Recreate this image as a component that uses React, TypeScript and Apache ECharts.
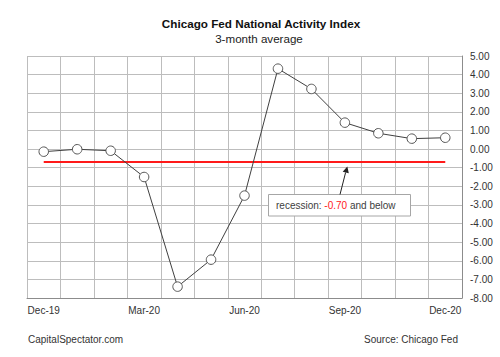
import React, { useEffect, useRef } from "react";
import * as echarts from "echarts";

const CATEGORIES = [
  "Dec-19", "Jan-20", "Feb-20", "Mar-20", "Apr-20", "May-20", "Jun-20",
  "Jul-20", "Aug-20", "Sep-20", "Oct-20", "Nov-20", "Dec-20",
];
const CFNAI_MA3 = [-0.14, -0.01, -0.09, -1.5, -7.39, -5.94, -2.5, 4.32, 3.23, 1.42, 0.85, 0.56, 0.61];
const RECESSION_THRESHOLD = -0.7;
const Y_MIN = -8;
const Y_MAX = 5;
const Y_STEP = 1;

const TITLE = "Chicago Fed National Activity Index";
const SUBTITLE = "3-month average";
const LEFT_NOTE = "CapitalSpectator.com";
const RIGHT_NOTE = "Source: Chicago Fed";

const FONT = "'Liberation Sans', Arial, sans-serif";

export default function App() {
  const ref = useRef<HTMLDivElement>(null);
  useEffect(() => {
    if (!ref.current) return;
    const chart = echarts.init(ref.current, undefined, { renderer: "svg" });
    const option: any = {
      animation: false,
      backgroundColor: "#ffffff",
      textStyle: { fontFamily: FONT },
      grid: { left: 27, right: 38, top: 56, bottom: 59, containLabel: false },
      xAxis: {
        type: "category",
        data: CATEGORIES,
        boundaryGap: true,
        axisLine: { show: true, onZero: false, lineStyle: { color: "#8c8c8c", width: 1 } },
        axisTick: { show: false },
        axisLabel: {
          interval: 2,
          color: "#333333",
          fontSize: 10,
          fontFamily: FONT,
          margin: 7,
        },
        splitLine: { show: true, interval: 0, lineStyle: { color: "#bdbdbd", width: 1 } },
      },
      yAxis: {
        type: "value",
        position: "right",
        min: Y_MIN,
        max: Y_MAX,
        interval: Y_STEP,
        axisLine: { show: true, onZero: false, lineStyle: { color: "#8c8c8c", width: 1 } },
        axisTick: { show: false },
        axisLabel: {
          color: "#333333",
          fontSize: 10,
          fontFamily: FONT,
          margin: 8,
          formatter: (v: number) => v.toFixed(2),
        },
        splitLine: { show: true, lineStyle: { color: "#bdbdbd", width: 1 } },
      },
      series: [
        {
          type: "line",
          data: CFNAI_MA3,
          symbol: "circle",
          symbolSize: 9.5,
          showSymbol: true,
          lineStyle: { color: "#404040", width: 1 },
          itemStyle: { color: "#ffffff", borderColor: "#555555", borderWidth: 1 },
          z: 5,
          markLine: {
            silent: true,
            symbol: ["none", "none"],
            label: { show: false },
            lineStyle: { color: "#ff1a1a", width: 2, type: "solid" },
            data: [
              [
                { coord: [CATEGORIES[0], RECESSION_THRESHOLD] },
                { coord: [CATEGORIES[CATEGORIES.length - 1], RECESSION_THRESHOLD] },
              ],
            ],
          },
        },
      ],
      graphic: [
        {
          type: "text",
          x: 261,
          y: 23,
          style: {
            text: TITLE,
            fontSize: 11.7,
            fontWeight: "bold",
            fontFamily: FONT,
            fill: "#111111",
            textAlign: "center",
            textVerticalAlign: "middle",
          },
        },
        {
          type: "text",
          x: 259,
          y: 38,
          style: {
            text: SUBTITLE,
            fontSize: 11.6,
            fontFamily: FONT,
            fill: "#222222",
            textAlign: "center",
            textVerticalAlign: "middle",
          },
        },
        {
          type: "text",
          x: 28,
          y: 339,
          style: {
            text: LEFT_NOTE,
            fontSize: 10,
            fontFamily: FONT,
            fill: "#333333",
            textAlign: "left",
            textVerticalAlign: "middle",
          },
        },
        {
          type: "text",
          x: 458,
          y: 339,
          style: {
            text: RIGHT_NOTE,
            fontSize: 10,
            fontFamily: FONT,
            fill: "#333333",
            textAlign: "right",
            textVerticalAlign: "middle",
          },
        },
        {
          type: "rect",
          shape: { x: 268.5, y: 194.5, width: 142, height: 21.5 },
          style: { fill: "#ffffff", stroke: "#a6a6a6", lineWidth: 1 },
          z: 10,
        },
        {
          type: "text",
          x: 276,
          y: 205.5,
          z: 11,
          style: {
            text: "{k|recession: }{r|-0.70}{k| and below}",
            fontSize: 10,
            fontFamily: FONT,
            textVerticalAlign: "middle",
            rich: {
              k: { fill: "#404040", fontSize: 10, fontFamily: FONT },
              r: { fill: "#ff2020", fontSize: 10, fontFamily: FONT },
            },
          },
        },
        {
          type: "line",
          shape: { x1: 340, y1: 194.5, x2: 345.6, y2: 172.5 },
          style: { stroke: "#222222", lineWidth: 1 },
          z: 11,
        },
        {
          type: "polygon",
          shape: { points: [[347.3, 166.5], [348.8, 173.3], [342.7, 171.7]] },
          style: { fill: "#222222" },
          z: 11,
        },
      ],
    };
    chart.setOption(option);
    return () => chart.dispose();
  }, []);
  return <div ref={ref} style={{ width: 500, height: 357, position: "absolute", left: 0, top: 0 }} />;
}
